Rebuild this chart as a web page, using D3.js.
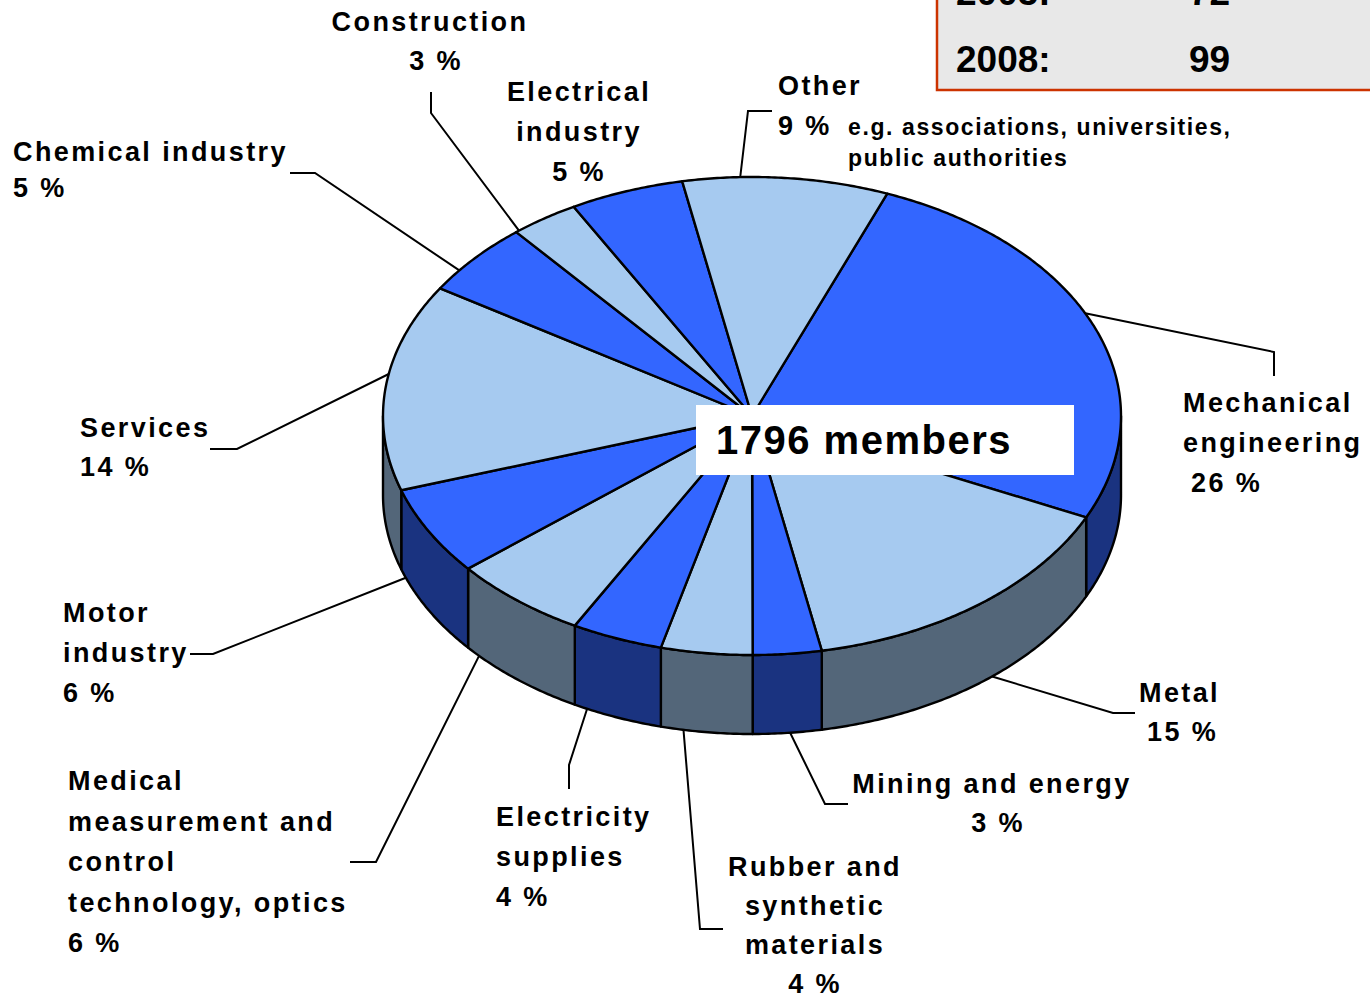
<!DOCTYPE html>
<html><head><meta charset="utf-8">
<script src="https://cdn.jsdelivr.net/npm/d3@7"></script>
<style>
html,body{margin:0;padding:0;background:#fff;}
svg{display:block;font-family:"Liberation Sans",Arial,sans-serif;font-weight:bold;}
</style>
</head><body>
<svg id="chart" width="1370" height="998"></svg>
<script>
// ---------- data ----------
const categories = ["Mechanical engineering","Metal","Mining and energy","Rubber and synthetic materials","Electricity supplies","Medical measurement and control technology, optics","Motor industry","Services","Chemical industry","Construction","Electrical industry","Other"];
const shares = [26, 15, 3, 4, 4, 6, 6, 14, 5, 3, 5, 9];
const labelLines = [["Mechanical","engineering"],["Metal"],["Mining and energy"],["Rubber and","synthetic","materials"],["Electricity","supplies"],["Medical","measurement and","control","technology, optics"],["Motor","industry"],["Services"],["Chemical industry"],["Construction"],["Electrical","industry"],["Other"]];
const otherNote = ["e.g. associations, universities,","public authorities"];
const totalLabel = "1796 members";
const boxYears = ["2005:", "2008:"];
const boxValues = [72, 99];

// ---------- layout ----------
const cx = 752, cy = 416, rx = 369, ry = 239, depth = 79;
const startAngle = 21.5 * Math.PI / 180;
const topColors = ["#3366FF", "#A6CAF0"];
const sideColors = ["#1A3380", "#536679"];
// at = position of the leader's anchor along the slice (0..1)
const labelLayout = [
  {x:1183, anchor:"start",  base:412, step:40, pctDx:8, at:0.46, leader:[[1274,352],[1274,376]]},
  {x:1139, anchor:"start",  base:702, step:39, pctDx:8, at:0.45, leader:[[1113,713],[1135,713]]},
  {x:992,  anchor:"middle", base:793, step:39, pctDx:6, at:0.46, leader:[[825,804],[848,804]]},
  {x:815,  anchor:"middle", base:876, step:39, pctDx:0, at:0.75, leader:[[700,929],[723,929]]},
  {x:496,  anchor:"start",  base:826, step:40, pctDx:0, at:0.85, leader:[[569,765],[569,789]]},
  {x:68,   anchor:"start",  base:790, step:40.6, pctDx:0, at:0.88, leader:[[376,862],[350,862]]},
  {x:63,   anchor:"start",  base:622, step:40, pctDx:0, at:0.9, leader:[[213,654],[190,654]]},
  {x:80,   anchor:"start",  base:437, step:39, pctDx:0, at:0.56, leader:[[237,449],[210,449]]},
  {x:13,   anchor:"start",  base:161, step:36, pctDx:0, at:0.29, leader:[[315,173],[290,173]]},
  {x:430,  anchor:"middle", base:31,  step:39, pctDx:6, at:0.05, leader:[[431,113],[431,92]]},
  {x:579,  anchor:"middle", base:101, step:40, pctDx:0, at:0.5, leader:null},
  {x:778,  anchor:"start",  base:95,  step:40, pctDx:0, at:0.28, leader:[[748,111],[772,111]]}
];

const svg = d3.select("#chart");
const pie = d3.pie().sort(null).startAngle(startAngle).endAngle(startAngle + 2*Math.PI);
const arcs = pie(shares);

function pt(a, dy = 0) { return [cx + rx*Math.sin(a), cy - ry*Math.cos(a) + dy]; }
function arcPts(a0, a1, dy = 0) {
  const n = Math.max(2, Math.ceil(Math.abs(a1 - a0) / (Math.PI/360)));
  return d3.range(n + 1).map(i => pt(a0 + (a1 - a0)*i/n, dy));
}
const line = d3.line();

// side walls (front half only)
const visLo = Math.PI/2, visHi = 3*Math.PI/2;
const sideG = svg.append("g");
arcs.forEach((d, i) => {
  const s = Math.max(d.startAngle, visLo), e = Math.min(d.endAngle, visHi);
  if (e <= s) return;
  const pts = arcPts(s, e, 0).concat(arcPts(e, s, depth));
  sideG.append("path")
    .attr("d", line(pts) + "Z")
    .attr("fill", sideColors[i % 2])
    .attr("stroke", "#000").attr("stroke-width", 2.4).attr("stroke-linejoin", "round");
});

// top faces
const topG = svg.append("g");
arcs.forEach((d, i) => {
  const pts = [[cx, cy]].concat(arcPts(d.startAngle, d.endAngle, 0));
  topG.append("path")
    .attr("d", line(pts) + "Z")
    .attr("fill", topColors[i % 2])
    .attr("stroke", "#000").attr("stroke-width", 2.4).attr("stroke-linejoin", "round");
});

// leaders
const leadG = svg.append("g");
arcs.forEach((d, i) => {
  const L = labelLayout[i];
  if (!L.leader) return;
  const a0 = d.startAngle + (d.endAngle - d.startAngle) * L.at;
  const m = ((a0 % (2*Math.PI)) + 2*Math.PI) % (2*Math.PI);
  const front = m > visLo && m < visHi;
  const a = pt(a0, front ? depth : 0);
  leadG.append("path")
    .attr("d", line([a].concat(L.leader)))
    .attr("fill", "none").attr("stroke", "#000").attr("stroke-width", 2);
});

// labels
const labG = svg.append("g").attr("font-size", 27).attr("letter-spacing", 2.4).attr("fill", "#000");
categories.forEach((c, i) => {
  const L = labelLayout[i];
  const lines = labelLines[i].concat([shares[i] + " %"]);
  const t = labG.append("text").attr("text-anchor", L.anchor);
  lines.forEach((s, j) => {
    const isPct = j === lines.length - 1;
    t.append("tspan")
      .attr("x", L.x + (isPct ? L.pctDx : 0))
      .attr("y", L.base + j*L.step)
      .text(s);
  });
});

// note for "Other"
const note = svg.append("text").attr("font-size", 23).attr("letter-spacing", 1.6);
otherNote.forEach((s, j) => {
  note.append("tspan").attr("x", 848).attr("y", 135 + j*31).text(s);
});

// centre label
svg.append("rect").attr("x", 696).attr("y", 405).attr("width", 378).attr("height", 70).attr("fill", "#fff");
svg.append("text").attr("x", 716).attr("y", 454).attr("font-size", 40).attr("letter-spacing", 1.5)
  .text(totalLabel);

// top-right box
svg.append("rect").attr("x", 937).attr("y", -60).attr("width", 480).attr("height", 150)
  .attr("fill", "#E8E8E8").attr("stroke", "#CC3300").attr("stroke-width", 2.5);
boxYears.forEach((y, j) => {
  const by = 72 - (boxYears.length - 1 - j)*67;
  svg.append("text").attr("x", 956).attr("y", by).attr("font-size", 37).text(y);
  svg.append("text").attr("x", 1189).attr("y", by).attr("font-size", 37).text(boxValues[j]);
});
</script>
</body></html>
